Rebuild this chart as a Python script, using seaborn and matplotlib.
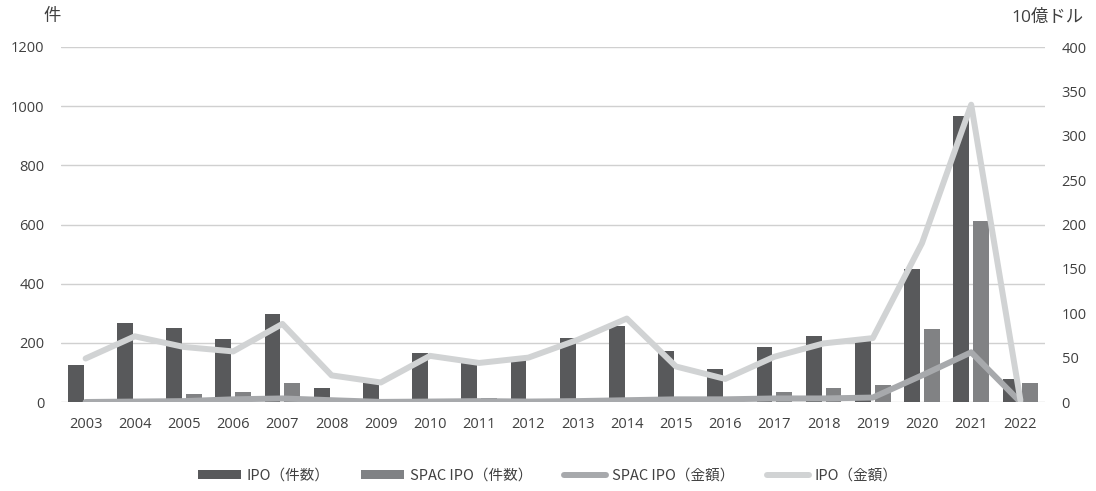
import matplotlib
matplotlib.use("Agg")
import matplotlib.pyplot as plt
import seaborn as sns
import pandas as pd
import numpy as np
from matplotlib.patches import Patch
from matplotlib.lines import Line2D

years = [str(y) for y in range(2003, 2023)]
ipo_count = [125, 267, 250, 213, 297, 47, 63, 165, 140, 145, 217, 257, 172, 111, 187, 223, 205, 449, 967, 78]
spac_count = [0, 1, 27, 34, 63, 15, 1, 2, 15, 2, 2, 2, 17, 3, 33, 46, 57, 247, 612, 65]
spac_amount = [0, 0.5, 1, 3, 4, 2, 0.1, 0.5, 1, 0.5, 1, 2, 3, 3, 4, 4, 5, 30, 56, 0]
ipo_amount = [49, 74, 62, 57, 88, 30, 22, 52, 44, 50, 70, 94, 40, 26, 51, 66, 72, 179, 335, 2]

lab_ipo_c = "IPO（件数）"
lab_spac_c = "SPAC IPO（件数）"
lab_spac_a = "SPAC IPO（金額）"
lab_ipo_a = "IPO（金額）"

c_ipo_bar = "#58595B"
c_spac_bar = "#808285"
c_spac_line = "#A7A9AC"
c_ipo_line = "#D1D3D4"
txt_col = "#404040"

sns.set_theme(style="white")
fam = ['Open Sans', 'Noto Sans CJK JP', 'DejaVu Sans']
plt.rcParams['font.family'] = fam

df = pd.DataFrame({
    "year": years * 2,
    "count": ipo_count + spac_count,
    "series": [lab_ipo_c] * len(years) + [lab_spac_c] * len(years),
})

fig = plt.figure(figsize=(10.96, 4.91), dpi=100)
ax = fig.add_axes([61 / 1096, 1 - 402 / 491, (1045 - 61) / 1096, (402 - 47) / 491])

sns.barplot(data=df, x="year", y="count", hue="series", order=years,
            hue_order=[lab_ipo_c, lab_spac_c],
            palette=[c_ipo_bar, c_spac_bar], width=0.8, gap=0.2,
            ax=ax, legend=False, zorder=2, linewidth=0)

ax.set_ylim(0, 1200)
ax.set_yticks(range(0, 1201, 200))
ax.set_xlim(-0.5, len(years) - 0.5)
ax.grid(axis="y", color="#D0D0D0", linewidth=1, zorder=0)
ax.set_axisbelow(True)
for s in ax.spines.values():
    s.set_visible(False)
ax.set_xlabel("")
ax.set_ylabel("")
ax.tick_params(axis="both", length=0, labelsize=10.5, colors=txt_col)
ax.tick_params(axis="x", pad=11)
ax.tick_params(axis="y", pad=12)

ax2 = ax.twinx()
x = np.arange(len(years))
sns.lineplot(x=x, y=spac_amount, ax=ax2, color=c_spac_line, linewidth=4.3,
             solid_capstyle="round", solid_joinstyle="round", legend=False)
sns.lineplot(x=x, y=ipo_amount, ax=ax2, color=c_ipo_line, linewidth=4.3,
             solid_capstyle="round", solid_joinstyle="round", legend=False)
ax2.set_ylim(0, 400)
ax2.set_yticks(range(0, 401, 50))
ax2.set_xlim(-0.5, len(years) - 0.5)
for s in ax2.spines.values():
    s.set_visible(False)
ax2.grid(False)
ax2.set_ylabel("")
ax2.tick_params(axis="y", length=0, labelsize=10.5, colors=txt_col, pad=12)

fig.text(52 / 1096, 1 - 17 / 491, "件", ha="center", va="center", fontsize=12.5, color=txt_col)
fig.text(1084 / 1096, 1 - 18 / 491, "10億ドル", ha="right", va="center", fontsize=12.5, color=txt_col)

handles = [
    Patch(facecolor=c_ipo_bar, edgecolor="none"),
    Patch(facecolor=c_spac_bar, edgecolor="none"),
    Line2D([0], [0], color=c_spac_line, linewidth=4.3, solid_capstyle="round"),
    Line2D([0], [0], color=c_ipo_line, linewidth=4.3, solid_capstyle="round"),
]
labels = [lab_ipo_c, lab_spac_c, lab_spac_a, lab_ipo_a]
leg = fig.legend(handles, labels, loc="center", bbox_to_anchor=(0.5, 1 - 476 / 491),
                 ncol=4, frameon=False, handlelength=2.9, handleheight=0.6,
                 columnspacing=2.2, handletextpad=0.4,
                 prop={'family': ['Noto Sans CJK JP', 'DejaVu Sans'], 'size': 10.5})
for t in leg.get_texts():
    t.set_color(txt_col)

fig.savefig("out.png", dpi=100)
